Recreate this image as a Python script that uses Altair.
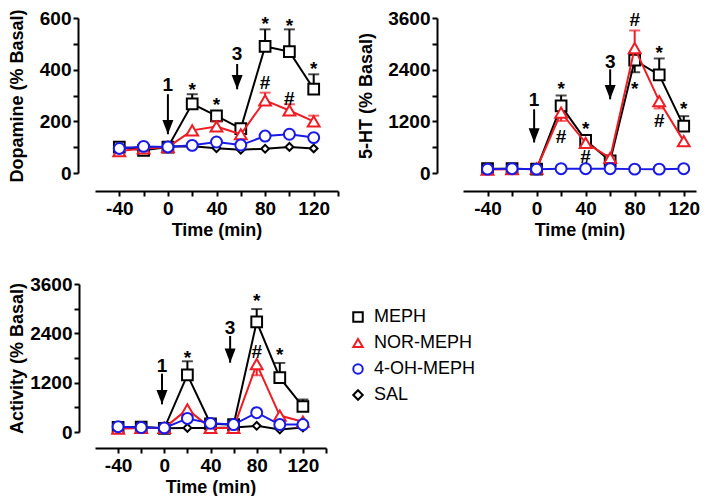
import altair as alt
import pandas as pd

times = [-40, -20, 0, 20, 40, 60, 80, 100, 120]
series = ["MEPH", "NOR-MEPH", "4-OH-MEPH", "SAL"]
series_colors = ["#000000", "#ee1c24", "#1a1ae6", "#000000"]
series_shapes = ["square", "triangle-up", "circle", "diamond"]
series_sizes = [115, 140, 120, 60]
draw_order = ["SAL", "MEPH", "NOR-MEPH", "4-OH-MEPH"]

# ---- Dopamine (% Basal) ----
da_meph = [100, 88, 100, 268, 221, 172, 490, 470, 325]
da_nor = [85, 95, 100, 165, 180, 150, 281, 242, 200]
da_oh = [95, 103, 101, 107, 120, 108, 143, 150, 137]
da_sal = [100, 95, 103, 104, 96, 90, 94, 101, 95]
da_meph_err = [None, None, None, 305, 238, 185, 556, 556, 382]
da_nor_err = [None, None, None, None, 200, None, 311, 266, 222]
da_oh_err = [None, None, None, None, None, None, None, None, None]
da_sal_err = [None, None, None, None, None, None, None, None, None]
da_notes = [(20, 343, "*"), (40, 285, "*"), (80, 601, "*"), (100, 591, "*"),
            (120, 424, "*"), (80, 352, "#"), (100, 292, "#")]
da_arrows = [(0, 346, 305, 150, "1"), (57, 463, 422, 324, "3")]

# ---- 5-HT (% Basal) ----
ht_meph = [100, 100, 90, 1560, 760, 280, 2620, 2280, 1090]
ht_nor = [80, 90, 100, 1400, 700, 350, 2900, 1670, 740]
ht_oh = [90, 100, 90, 100, 100, 100, 90, 90, 100]
ht_sal = [None, None, None, None, None, None, None, None, None]
ht_meph_err = [None, None, None, 1800, 880, None, 2340, 2660, 1320]
ht_nor_err = [None, None, None, 1210, None, None, 3310, 1500, None]
ht_oh_err = [None, None, None, None, None, None, None, None, None]
ht_sal_err = [None, None, None, None, None, None, None, None, None]
ht_notes = [(20, 2098, "*"), (20, 860, "#"), (40, 1170, "*"), (40, 395, "#"),
            (80, 3569, "#"), (80, 2098, "*"), (100, 2926, "*"), (100, 1223, "#"),
            (120, 1634, "*")]
ht_arrows = [(-2, 1711, 1480, 709, "1"), (60, 2600, 2408, 1711, "3")]

# ---- Activity (% Basal) ----
ac_meph = [110, 120, 90, 1390, 200, 180, 2680, 1320, 620]
ac_nor = [80, 100, 100, 550, 100, 100, 1650, 400, 250]
ac_oh = [130, 110, 100, 330, 210, 180, 470, 180, 180]
ac_sal = [100, 110, 90, 100, 100, 110, 150, 60, 110]
ac_meph_err = [None, None, None, 1720, None, None, 2990, 1680, 790]
ac_nor_err = [None, None, None, None, None, None, 1380, None, None]
ac_oh_err = [None, None, None, None, None, None, None, None, None]
ac_sal_err = [None, None, None, None, None, None, None, None, None]
ac_notes = [(20, 1954, "*"), (80, 3332, "*"), (80, 1970, "#"), (100, 2011, "*")]
ac_arrows = [(-2, 1622, 1419, 673, "1"), (57, 2554, 2335, 1686, "3")]

FONT = "Liberation Sans"
HEAD = "M-1,-2.6L1,-2.6L0,0Z"


def frame(vals, errs, name):
    return pd.DataFrame({"t": times, "v": vals, "e": errs, "series": name})


def panel(vals, errs, notes, arrows, ymax, ytick, ylab, xmax, width, height,
          ytitle, yoff, xoff, title_x):
    xs = alt.Scale(domain=[-60, xmax], nice=False, zero=False)
    ys = alt.Scale(domain=[0, ymax], nice=False, zero=False)
    xaxis = alt.Axis(title="Time (min)", values=list(range(-40, xmax + 1, 20)),
                     labelExpr="datum.value % 40 == 0 ? toString(datum.value) : ''",
                     offset=xoff, grid=False, labelFlush=False, labelOverlap=False)
    yaxis = alt.Axis(title=ytitle, values=list(range(0, ymax + 1, ytick)),
                     labelExpr=f"datum.value % {ylab} == 0 ? toString(datum.value) : ''",
                     offset=yoff, grid=False, titleX=title_x,
                     labelFlush=False, labelOverlap=False)
    X = alt.X("t:Q", scale=xs, axis=xaxis)

    def Y(f):
        return alt.Y(f"{f}:Q", scale=ys, axis=yaxis)

    stroke_enc = alt.Stroke("series:N", scale=alt.Scale(domain=series, range=series_colors),
                            legend=alt.Legend(title=None))
    shape_enc = alt.Shape("series:N", scale=alt.Scale(domain=series, range=series_shapes),
                          legend=alt.Legend(title=None))
    layers = []
    for name in draw_order:
        i = series.index(name)
        df = frame(vals[i], errs[i], name).dropna(subset=["v"])
        if df.empty:
            continue
        c = series_colors[i]
        de = df.dropna(subset=["e"])
        if not de.empty:
            layers.append(alt.Chart(de).mark_rule(color=c, strokeWidth=2).encode(x=X, y=Y("v"), y2="e:Q"))
            layers.append(alt.Chart(de).mark_tick(color=c, thickness=2, size=11, orient="horizontal")
                          .encode(x=X, y=Y("e")))
        layers.append(alt.Chart(df).mark_line(color=c, strokeWidth=2).encode(x=X, y=Y("v")))
        layers.append(alt.Chart(df).mark_point(filled=True, fill="white", strokeWidth=2,
                                               size=series_sizes[i], opacity=1)
                      .encode(x=X, y=Y("v"), stroke=stroke_enc, shape=shape_enc))
    nd = pd.DataFrame(notes, columns=["t", "v", "s"])
    for sym, dy in [("*", 6), ("#", 1)]:
        sub = nd[nd["s"] == sym]
        if not sub.empty:
            layers.append(alt.Chart(sub).mark_text(font=FONT, fontSize=19, fontWeight="bold",
                                                   color="black", baseline="middle", dy=dy)
                          .encode(x=X, y=Y("v"), text="s:N"))
    ad = pd.DataFrame(arrows, columns=["t", "v", "top", "tip", "s"])
    layers.append(alt.Chart(ad).mark_rule(color="black", strokeWidth=2)
                  .encode(x=X, y=Y("top"), y2="tip:Q"))
    layers.append(alt.Chart(ad).mark_point(shape=HEAD, filled=True, fill="black",
                                           strokeWidth=0, size=121, opacity=1)
                  .encode(x=X, y=Y("tip")))
    layers.append(alt.Chart(ad).mark_text(font=FONT, fontSize=19, fontWeight="bold",
                                          color="black", baseline="middle", dy=1)
                  .encode(x=X, y=Y("v"), text="s:N"))
    return alt.layer(*layers).properties(width=width, height=height)


tl = panel([da_meph, da_nor, da_oh, da_sal], [da_meph_err, da_nor_err, da_oh_err, da_sal_err],
           da_notes, da_arrows, 600, 100, 200, 140, 243, 155,
           "Dopamine (% Basal)", 17, 18, -52)
tr = panel([ht_meph, ht_nor, ht_oh, ht_sal], [ht_meph_err, ht_nor_err, ht_oh_err, ht_sal_err],
           ht_notes, ht_arrows, 3600, 600, 1200, 130, 233, 155,
           "5-HT (% Basal)", 26, 18, -62)
bl = panel([ac_meph, ac_nor, ac_oh, ac_sal], [ac_meph_err, ac_nor_err, ac_oh_err, ac_sal_err],
           ac_notes, ac_arrows, 3600, 600, 1200, 140, 231, 148,
           "Activity (% Basal)", 16, 16, -53)

chart = (
    alt.concat(tl, tr, bl, columns=2, spacing=alt.RowColnumber(row=111, column=125), bounds="flush")
    .resolve_scale(x="independent", y="independent")
    .properties(padding=0)
    .configure_view(stroke=None)
    .configure_axis(domainColor="black", domainWidth=2, tickColor="black", tickWidth=2,
                    tickSize=5, labelFont=FONT, labelFontSize=19, labelFontWeight="bold",
                    labelColor="black", titleFont=FONT, titleFontSize=18,
                    titleFontWeight="bold", titleColor="black", labelPadding=2)
    .configure_axisX(labelPadding=3, titlePadding=3)
    .configure_legend(orient="none", legendX=254, legendY=290, labelFont=FONT,
                      labelFontSize=18, labelColor="black", symbolStrokeWidth=2,
                      symbolSize=90, rowPadding=8, labelOffset=7, symbolFillColor="white")
)

chart.save("out.html", embed_options={"renderer": "svg", "actions": False})
